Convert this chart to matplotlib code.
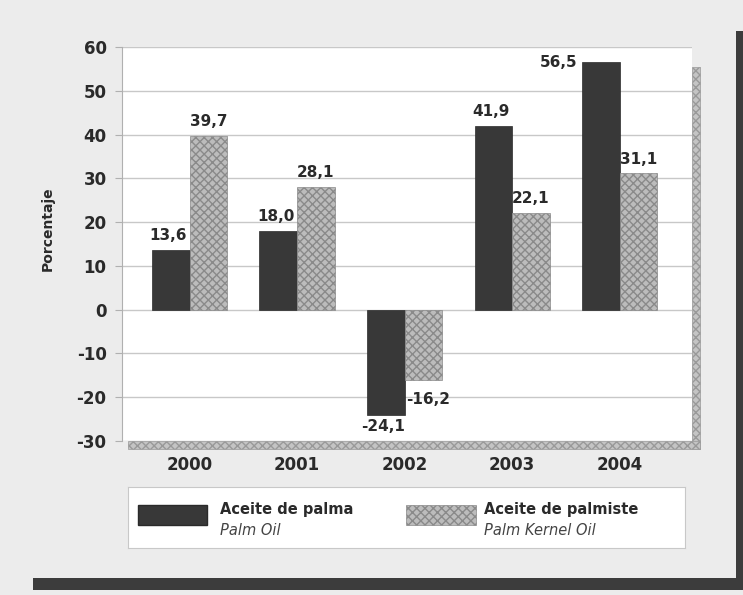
import matplotlib.pyplot as plt
from matplotlib.patches import Rectangle

years = ['2000', '2001', '2002', '2003', '2004']
palma = [13.6, 18.0, -24.1, 41.9, 56.5]
palmiste = [39.7, 28.1, -16.2, 22.1, 31.1]
yticks = [-30, -20, -10, 0, 10, 20, 30, 40, 50, 60]

plt.rcParams['font.family'] = ['DejaVu Sans']
txt = '#2a2a2a'

fig = plt.figure(figsize=(7.43, 5.95), dpi=100)
fig.patch.set_facecolor('#ececec')

# dark shadow along the bottom and right edges of the panel
fig.patches.append(Rectangle((0.045, 0.008), 0.955, 0.020, transform=fig.transFigure,
                             facecolor='#3c3c3c', edgecolor='none'))
fig.patches.append(Rectangle((0.991, 0.008), 0.009, 0.94, transform=fig.transFigure,
                             facecolor='#3c3c3c', edgecolor='none'))

ax = fig.add_axes([0.164, 0.259, 0.767, 0.662])
ax.set_facecolor('white')

x = list(range(len(years)))
w = 0.35
b1 = ax.bar([i - w / 2 for i in x], palma, w, color='#383838', edgecolor='#2a2a2a',
            linewidth=0.5, zorder=3)
b2 = ax.bar([i + w / 2 for i in x], palmiste, w, color='#bcbcbc', edgecolor='#8a8a8a',
            hatch='xxxx', linewidth=0.5, zorder=3)

ax.set_xlim(-0.63, 4.67)
ax.set_ylim(-30, 60)
ax.set_yticks(yticks)
ax.set_yticklabels([str(v) for v in yticks], fontsize=12, fontweight='bold', color=txt)
ax.set_xticks(x)
ax.set_xticklabels(years, fontsize=12, fontweight='bold', color=txt)
ax.tick_params(axis='x', length=0, pad=11)
ax.tick_params(axis='y', length=5, color='#b0b0b0', pad=6)
ax.grid(axis='y', color='#c8c8c8', linewidth=1, zorder=0)
for s in ['top', 'right', 'bottom']:
    ax.spines[s].set_visible(False)
ax.spines['left'].set_color('#b0b0b0')
ax.set_ylabel('Porcentaje', fontsize=10, fontweight='bold', color=txt)
ax.yaxis.set_label_coords(-0.118, 0.54)

# 3D-like wall and floor
ax.add_patch(Rectangle((1.0, -0.02), 0.014, 0.97, transform=ax.transAxes, clip_on=False,
                       facecolor='#c4c4c4', edgecolor='#999999', hatch='xxxx', linewidth=0.5))
ax.add_patch(Rectangle((0.01, -0.02), 1.004, 0.02, transform=ax.transAxes, clip_on=False,
                       facecolor='#c4c4c4', edgecolor='#999999', hatch='xxxx', linewidth=0.5))

# value labels
lab = dict(fontsize=11, fontweight='bold', color=txt)
for i, (a, b) in enumerate(zip(palma, palmiste)):
    sa = f'{a:.1f}'.replace('.', ',')
    sb = f'{b:.1f}'.replace('.', ',')
    if a >= 0:
        if i == 4:
            ax.annotate(sa, (i - w, a), xytext=(-3, 0), textcoords='offset points',
                        ha='right', va='center', **lab)
        else:
            ax.annotate(sa, (i - w / 2, a), xytext=(-2, 5), textcoords='offset points',
                        ha='center', va='bottom', **lab)
    else:
        ax.annotate(sa, (i - w / 2, a), xytext=(-2, -3), textcoords='offset points',
                    ha='center', va='top', **lab)
    if b >= 0:
        ax.annotate(sb, (i + w / 2, b), xytext=(0, 5), textcoords='offset points',
                    ha='center', va='bottom', **lab)
    else:
        ax.annotate(sb, (i, b), xytext=(1, -8), textcoords='offset points',
                    ha='left', va='top', **lab)

# legend box
lg = fig.add_axes([0.172, 0.079, 0.750, 0.103])
lg.set_xlim(0, 1)
lg.set_ylim(0, 1)
lg.set_xticks([])
lg.set_yticks([])
lg.set_facecolor('white')
for s in lg.spines.values():
    s.set_color('#c8c8c8')
lg.add_patch(Rectangle((0.018, 0.38), 0.125, 0.32, facecolor='#383838', edgecolor='#2a2a2a'))
lg.add_patch(Rectangle((0.50, 0.38), 0.125, 0.32, facecolor='#bcbcbc', edgecolor='#8a8a8a',
                       hatch='xxxx', linewidth=0.5))
lg.text(0.165, 0.62, 'Aceite de palma', fontsize=10.5, fontweight='bold', color=txt,
        va='center', ha='left')
lg.text(0.165, 0.28, 'Palm Oil', fontsize=10.5, style='italic', color='#444444',
        va='center', ha='left')
lg.text(0.64, 0.62, 'Aceite de palmiste', fontsize=10.5, fontweight='bold', color=txt,
        va='center', ha='left')
lg.text(0.64, 0.28, 'Palm Kernel Oil', fontsize=10.5, style='italic', color='#444444',
        va='center', ha='left')

fig.savefig('out.png', dpi=100, facecolor=fig.get_facecolor())
